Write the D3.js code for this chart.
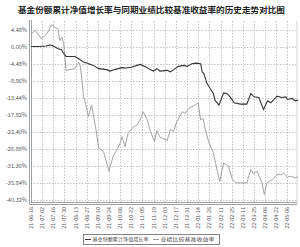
<!DOCTYPE html>
<html>
<head>
<meta charset="utf-8">
<script src="https://cdn.jsdelivr.net/npm/d3@7"></script>
<style>
  html, body { margin: 0; padding: 0; background: #fff; }
  svg { display: block; }
</style>
</head>
<body>
<div class="chart"></div>
<script>
// 기준일(첫 눈금) 과 눈금 라벨
const startDate = new Date(2021, 5, 18);
const tickLabels = ['21-06-18','21-07-02','21-07-16','21-07-30','21-08-13','21-08-27','21-09-10','21-09-24',
  '21-10-08','21-10-22','21-11-05','21-11-19','21-12-03','21-12-17','21-12-31','22-01-14',
  '22-01-28','22-02-11','22-02-25','22-03-11','22-03-25','22-04-08','22-04-22','22-05-06'];
const yTicks = [4.48, 0, -4.48, -8.96, -13.44, -17.92, -22.40, -26.88, -31.36, -35.84, -40.32];

// [기준일로부터 일수, 수익률(%)]
const fundDays = [0,11,19,24,28,34,38,41,44,55,60,66,70,78,85,95,99,106,114,120,127,137,143,150,154,158,162,171,175,181,185,192,196,202,208,213,215,217,221,225,229,231,236,240,242,246,250,255,263,271,276,280,286,292,297,301,309,315,320,322,328,332,335];
const fundValues = [0.00,0.00,0.13,0.44,0.13,-0.60,-0.78,-1.83,-2.61,-2.61,-3.22,-4.10,-4.36,-4.97,-5.83,-6.09,-6.46,-6.01,-5.57,-5.67,-5.41,-4.71,-5.23,-6.09,-6.46,-5.83,-6.46,-6.27,-6.67,-5.83,-5.23,-4.97,-5.23,-4.52,-4.36,-4.52,-6.72,-7.14,-9.75,-11.06,-12.36,-14.12,-15.42,-13.25,-12.21,-12.36,-13.25,-14.82,-15.16,-15.16,-12.36,-13.25,-13.41,-16.55,-14.30,-14.82,-13.07,-13.41,-13.25,-13.93,-13.67,-14.30,-14.12];
const benchDays = [0,5,13,20,26,30,34,36,39,41,44,55,60,62,64,66,70,72,76,81,85,91,95,98,103,108,112,114,118,122,127,133,137,141,146,150,155,158,162,171,175,179,183,190,194,198,204,210,213,216,219,223,229,234,237,242,248,253,257,271,276,279,284,290,293,296,303,309,315,317,322,326,332,335];
const benchValues = [3.14,4.37,2.01,3.32,5.75,5.05,4.63,1.57,2.43,0.71,-6.27,-5.83,-4.10,-5.41,-8.89,-13.25,-16.29,-18.48,-15.42,-21.10,-26.74,-27.63,-30.66,-32.86,-28.94,-27.19,-25.43,-23.71,-26.32,-22.82,-21.51,-20.65,-19.34,-17.17,-19.34,-22.40,-25.02,-22.14,-23.87,-24.75,-21.77,-22.40,-19.79,-17.17,-17.59,-16.29,-15.68,-14.82,-19.34,-18.90,-21.96,-25.02,-28.05,-32.86,-35.47,-30.66,-31.55,-35.03,-35.89,-35.89,-32.41,-33.46,-32.86,-35.89,-38.95,-35.89,-35.03,-33.72,-33.72,-33.28,-34.32,-34.16,-34.58,-34.32];

const title = '基金份额累计净值增长率与同期业绩比较基准收益率的历史走势对比图';
const seriesNames = ['基金份额累计净值增长率', '业绩比较基准收益率'];
const seriesColors = ['#333333', '#9a9a9a'];

const W = 300, H = 247;
const margin = {top: 21, right: 3, bottom: 44, left: 31};
const FONT = '"Noto Sans CJK SC", "DejaVu Sans", sans-serif';

const day = n => d3.timeDay.offset(startDate, n);

const svg = d3.select('.chart').append('svg')
  .attr('width', W).attr('height', H);

const x = d3.scaleTime()
  .domain([startDate, day(334.6)])
  .range([margin.left, W - margin.right]);
const y = d3.scaleLinear()
  .domain([-41.2, 6.72])
  .range([H - margin.bottom, margin.top]);

const tickDates = tickLabels.map((_, i) => day(i * 14));

/******** 그리드 ********/
svg.append('g')
  .selectAll('line')
  .data(yTicks)
  .join('line')
    .attr('x1', margin.left).attr('x2', W - margin.right)
    .attr('y1', d => Math.round(y(d)) + 0.5).attr('y2', d => Math.round(y(d)) + 0.5)
    .attr('stroke', '#b5b5b5').attr('stroke-width', 0.8)
    .attr('stroke-dasharray', '1.5,1.5');
svg.append('g')
  .selectAll('line')
  .data(tickDates.slice(1))
  .join('line')
    .attr('x1', d => Math.round(x(d)) + 0.5).attr('x2', d => Math.round(x(d)) + 0.5)
    .attr('y1', margin.top).attr('y2', H - margin.bottom)
    .attr('stroke', '#b5b5b5').attr('stroke-width', 0.8)
    .attr('stroke-dasharray', '1.5,1.5');

/******** 축선 ********/
const axisG = svg.append('g').attr('stroke', '#8a8a8a').attr('stroke-width', 0.8);
axisG.append('line')
  .attr('x1', margin.left - 1.5).attr('x2', margin.left - 1.5)
  .attr('y1', margin.top - 1).attr('y2', H - margin.bottom + 1.5);
axisG.append('line')
  .attr('x1', margin.left + 0.5).attr('x2', margin.left + 0.5)
  .attr('y1', margin.top - 1).attr('y2', H - margin.bottom);
axisG.append('line')
  .attr('x1', margin.left - 1.5).attr('x2', W - margin.right)
  .attr('y1', H - margin.bottom + 1.5).attr('y2', H - margin.bottom + 1.5);
axisG.append('line')
  .attr('x1', margin.left).attr('x2', W - margin.right)
  .attr('y1', H - margin.bottom - 0.5).attr('y2', H - margin.bottom - 0.5);
axisG.append('line')
  .attr('x1', W - margin.right).attr('x2', W - margin.right)
  .attr('y1', margin.top).attr('y2', H - margin.bottom + 1.5)
  .attr('stroke', '#c8c8c8');

/******** 눈금 라벨 ********/
svg.append('g')
  .attr('font-family', FONT).attr('font-size', 5.6).attr('fill', '#555')
  .attr('text-anchor', 'end')
  .selectAll('text')
  .data(yTicks)
  .join('text')
    .attr('x', margin.left - 4)
    .attr('y', d => y(d) + 2)
    .text(d => d.toFixed(2) + '%');

svg.append('g')
  .attr('font-family', FONT).attr('font-size', 5.4).attr('fill', '#555')
  .attr('text-anchor', 'end')
  .selectAll('text')
  .data(tickDates)
  .join('text')
    .attr('transform', d => `translate(${x(d) + 2},${H - margin.bottom + 4}) rotate(-90)`)
    .text((d, i) => tickLabels[i]);

/******** 선 ********/
const line = d3.line().x(d => x(day(d[0]))).y(d => y(d[1]));
const series = [
  d3.zip(benchDays, benchValues),
  d3.zip(fundDays, fundValues)
];
svg.append('path')
  .attr('d', line(series[0]))
  .attr('fill', 'none').attr('stroke', seriesColors[1]).attr('stroke-width', 0.9);
svg.append('path')
  .attr('d', line(series[1]))
  .attr('fill', 'none').attr('stroke', seriesColors[0]).attr('stroke-width', 1.1);

/******** 제목 ********/
svg.append('text')
  .attr('x', 18).attr('y', 12.5)
  .attr('font-family', FONT).attr('font-weight', 'bold')
  .attr('font-size', 8.2).attr('fill', '#222')
  .attr('textLength', 267).attr('lengthAdjust', 'spacingAndGlyphs')
  .text(title);

/******** 범례 ********/
const lg = svg.append('g').attr('font-family', FONT).attr('font-size', 4.8).attr('fill', '#444');
lg.append('rect')
  .attr('x', 83.5).attr('y', 234.5).attr('width', 136).attr('height', 10)
  .attr('fill', '#fff').attr('stroke', '#666').attr('stroke-width', 0.8);
const legendX = [85, 153];
const legendW = [56, 54];
seriesNames.forEach((name, i) => {
  lg.append('line')
    .attr('x1', legendX[i]).attr('x2', legendX[i] + 6)
    .attr('y1', 239.5).attr('y2', 239.5)
    .attr('stroke', seriesColors[i]).attr('stroke-width', 1);
  lg.append('text')
    .attr('x', legendX[i] + 7.5).attr('y', 241.2)
    .attr('textLength', legendW[i]).attr('lengthAdjust', 'spacingAndGlyphs')
    .text(name);
});
</script>
</body>
</html>
